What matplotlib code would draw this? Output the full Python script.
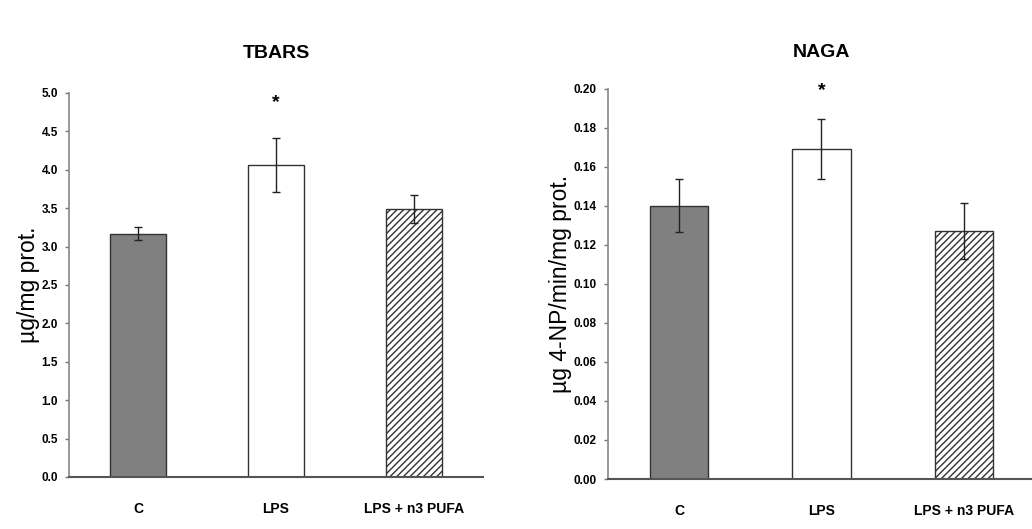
import numpy as np
import matplotlib
matplotlib.use("Agg")
import matplotlib.pyplot as plt

plt.rcParams['font.family'] = ['Liberation Sans Narrow', 'Liberation Sans', 'DejaVu Sans']
plt.rcParams['hatch.color'] = '#555555'
plt.rcParams['hatch.linewidth'] = 1.0

groups = ["C", "LPS", "LPS + n3 PUFA"]

tbars = [3.17, 4.06, 3.49]
tbars_err = [0.08, 0.35, 0.18]

naga = [0.140, 0.169, 0.127]
naga_err = [0.0135, 0.0155, 0.0145]

faces = ['#808080', 'white', 'white']
hatches = [None, None, '/////']


def draw(ax, vals, errs, ymax, step, fmt, ylabel, title, star_y, title_y):
    x = np.arange(len(groups)) + 0.5
    for i in range(len(groups)):
        ax.bar(x[i], vals[i], width=0.41, color=faces[i], edgecolor='#333333',
               linewidth=1.0, hatch=hatches[i], zorder=2)
    ax.errorbar(x, vals, yerr=errs, fmt='none', ecolor='#222222',
                elinewidth=1.0, capsize=3, capthick=1.0, zorder=3)
    ax.text(x[1], star_y, '*', ha='center', va='center', fontsize=14,
            fontweight='bold')
    ax.set_xlim(0, 3)
    ax.set_ylim(0, ymax)
    ticks = np.arange(0, ymax + step / 2, step)
    ax.set_yticks(ticks)
    ax.set_yticklabels([fmt.format(t) for t in ticks], fontsize=8.5,
                       fontweight='bold')
    ax.set_xticks(x)
    ax.set_xticklabels(groups, fontsize=10, fontweight='bold')
    ax.tick_params(axis='x', length=0, pad=18)
    ax.tick_params(axis='y', length=3, width=1, color='#777777', pad=5)
    ax.spines['top'].set_visible(False)
    ax.spines['right'].set_visible(False)
    ax.spines['left'].set_color('#888888')
    ax.spines['bottom'].set_color('#555555')
    ax.spines['left'].set_linewidth(1.2)
    ax.spines['bottom'].set_linewidth(1.5)
    ax.set_ylabel(ylabel, fontsize=16.5, family=['Liberation Sans', 'DejaVu Sans'],
                  labelpad=1)
    ax.text(1.5, title_y, title, ha='center', va='center', fontsize=14,
            fontweight='bold', transform=ax.transData, clip_on=False)


fig = plt.figure(figsize=(10.32, 5.29), dpi=100)
ax1 = fig.add_axes([0.0669, 0.0983, 0.401, 0.726])
ax2 = fig.add_axes([0.589, 0.0945, 0.414, 0.738])

draw(ax1, tbars, tbars_err, 5.0, 0.5, '{:.1f}', 'µg/mg prot.', 'TBARS', 4.87, 5.52)
draw(ax2, naga, naga_err, 0.20, 0.02, '{:.2f}', 'µg 4-NP/min/mg prot.', 'NAGA', 0.199, 0.2185)

fig.savefig('out.png', dpi=100)
